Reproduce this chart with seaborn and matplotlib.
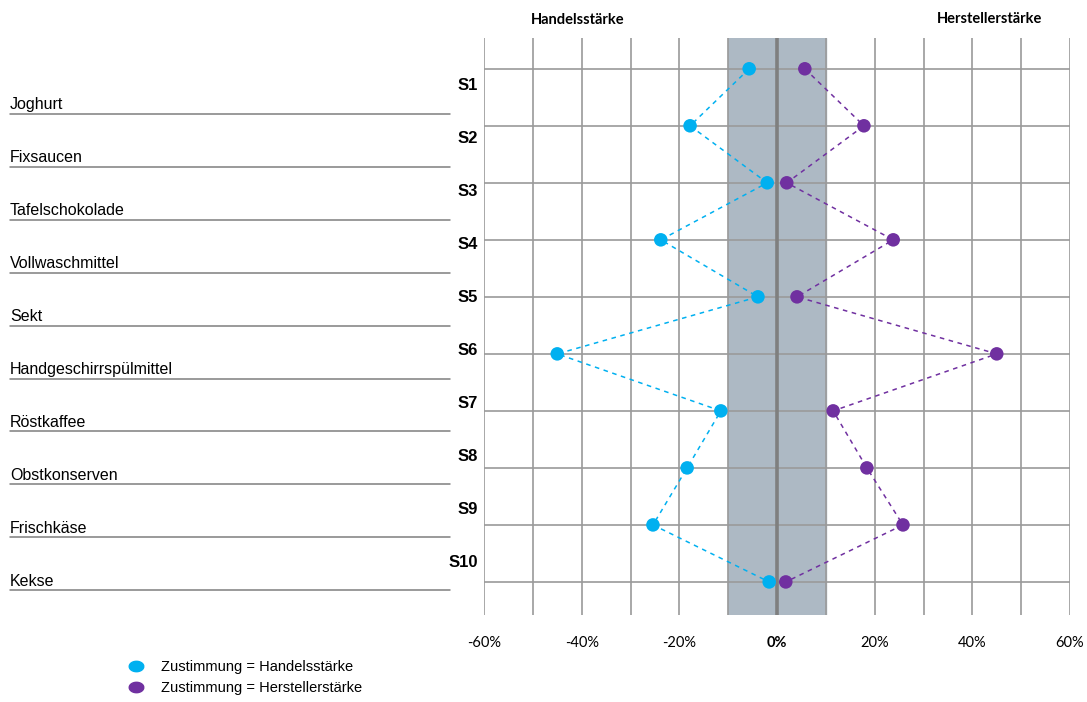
import numpy as np
import pandas as pd
import matplotlib
matplotlib.use("Agg")
import matplotlib.pyplot as plt
import seaborn as sns
from matplotlib.lines import Line2D
from matplotlib.path import Path

# data
stores = ["S1", "S2", "S3", "S4", "S5", "S6", "S7", "S8", "S9", "S10"]
products = ["Joghurt", "Fixsaucen", "Tafelschokolade", "Vollwaschmittel", "Sekt",
            "Handgeschirrspülmittel", "Röstkaffee", "Obstkonserven", "Frischkäse", "Kekse"]
handel = [-5.7, -17.8, -2.0, -23.8, -3.9, -45.0, -11.5, -18.4, -25.4, -1.6]
hersteller = [5.7, 17.8, 2.0, 23.8, 4.1, 45.0, 11.5, 18.4, 25.8, 1.8]
x_ticks = list(range(-60, 61, 10))
legend_labels = ["Zustimmung = Handelsstärke", "Zustimmung = Herstellerstärke"]

CYAN = "#00B0F0"
PURPLE = "#7030A0"
BAND = "#ADB9C4"
GRID = "#9A9A9A"

sns.set_style("white")
plt.rcParams["font.family"] = ["Liberation Sans", "DejaVu Sans"]
plt.rcParams["text.color"] = "black"
plt.rcParams["xtick.color"] = "black"

W, H = 1087, 702
fig = plt.figure(figsize=(W / 100, H / 100), dpi=100)
ax = fig.add_axes([484 / W, 1 - 615 / H, (1070 - 484) / W, (615 - 38) / H])

df = pd.DataFrame({"pos": np.arange(1, len(stores) + 1), "handel": handel, "hersteller": hersteller})

ax.axvspan(-10, 10, color=BAND, zorder=0)
ax.set_axisbelow(True)
ax.grid(True, color=GRID, lw=1.2)
ax.axvline(0, color="#7F7F7F", lw=2.6, zorder=1)

for col, c in [("handel", CYAN), ("hersteller", PURPLE)]:
    sns.lineplot(data=df, x=col, y="pos", orient="y", sort=False, color=c,
                 linestyle=(0, (3, 3)), lw=1.1, ax=ax, zorder=2)
    sns.scatterplot(data=df, x=col, y="pos", color=c, s=95, edgecolor="none",
                    zorder=3, ax=ax)

ax.set_xlim(-60, 60)
ax.set_ylim(10.58, 0.46)
ax.set_xticks(x_ticks)
ax.set_xticklabels([f"{v}%" if v % 20 == 0 else "" for v in x_ticks],
                   family=["Lato", "DejaVu Sans"], fontsize=10.5)
for lbl in ax.get_xticklabels():
    if lbl.get_text() == "0%":
        lbl.set_fontweight("bold")
ax.set_yticks(df["pos"])
ax.set_yticklabels([])
ax.tick_params(length=0, pad=15)
ax.set_xlabel("")
ax.set_ylabel("")
sns.despine(ax=ax, left=True, bottom=True)

# headers
fig.text(578 / W, 1 - 20 / H, "Handelsstärke", ha="center", va="center",
         weight="bold", family=["Lato", "DejaVu Sans"], fontsize=10.5)
fig.text(990 / W, 1 - 19 / H, "Herstellerstärke", ha="center", va="center",
         weight="bold", family=["Lato", "DejaVu Sans"], fontsize=10.5)

# store labels and product labels
step = 52.9
for i, (s, p) in enumerate(zip(stores, products)):
    fig.text(478 / W, 1 - (86 + step * i) / H, s, ha="right", va="center",
             weight="bold", fontsize=12)
    fig.text(10 / W, 1 - (105 + step * i) / H, p, ha="left", va="center", fontsize=11.5)
    yl = 1 - (114 + step * i) / H
    fig.add_artist(Line2D([10 / W, 450 / W], [yl, yl], transform=fig.transFigure,
                          color="#7F7F7F", lw=1.1))

# legend
t = np.linspace(0, 2 * np.pi, 40)
ellipse = Path(np.c_[1.4 * np.cos(t), np.sin(t)])
handles = [Line2D([], [], marker=ellipse, color=c, linestyle="none", markersize=10.5)
           for c in (CYAN, PURPLE)]
fig.legend(handles, legend_labels, loc="upper left", bbox_to_anchor=(126 / W, 1 - 660 / H),
           frameon=False, fontsize=10.5, handlelength=1.4, handletextpad=1.0,
           labelspacing=0.5, borderpad=0, borderaxespad=0)

fig.savefig("out.png", dpi=100)
